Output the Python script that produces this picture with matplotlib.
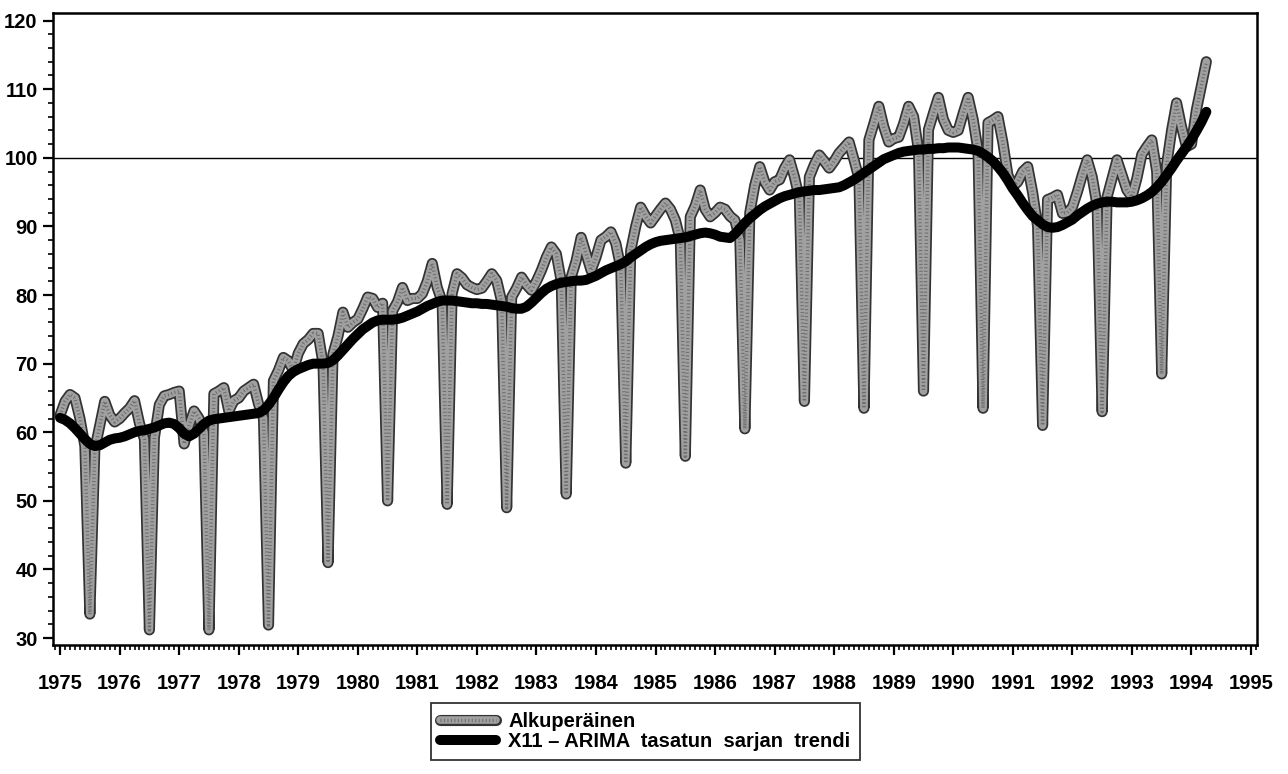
import numpy as np
import matplotlib
matplotlib.use("Agg")
import matplotlib.pyplot as plt
import matplotlib.patheffects as pe
from matplotlib.ticker import MultipleLocator

plt.rcParams['font.family'] = ['Liberation Sans', 'DejaVu Sans']

# monthly series, Jan 1975 .. Apr 1994
start_year = 1975
original = [
    62.5, 64.5, 65.5, 65.0, 62.0, 58.0, 33.5, 57.5, 61.0, 64.5, 62.5, 61.5,   # 1975
    62.0, 62.8, 63.5, 64.6, 61.3, 59.0, 31.2, 59.2, 64.0, 65.3, 65.5, 65.8,   # 1976
    66.0, 58.3, 61.0, 63.1, 62.0, 60.0, 31.2, 65.6, 66.0, 66.5, 63.1, 64.6,   # 1977
    65.0, 66.0, 66.5, 67.0, 64.1, 62.0, 31.9, 67.5, 69.0, 70.9, 70.4, 69.0,   # 1978
    71.5, 72.9, 73.5, 74.4, 74.4, 70.0, 41.0, 71.4, 74.0, 77.5, 75.3, 76.0,   # 1979
    76.5, 78.0, 79.7, 79.5, 78.2, 78.8, 50.0, 77.7, 79.0, 81.1, 79.2, 79.5,   # 1980
    79.5, 80.2, 82.0, 84.6, 81.1, 79.0, 49.5, 80.2, 83.1, 82.5, 81.5, 81.1,   # 1981
    80.8, 81.0, 82.0, 83.1, 82.1, 79.0, 49.0, 79.7, 81.0, 82.6, 81.5, 80.7,   # 1982
    82.0, 83.6, 85.5, 87.0, 86.0, 82.0, 51.0, 82.6, 85.0, 88.4, 86.0, 83.6,   # 1983
    85.5, 88.0, 88.5, 89.2, 87.5, 84.0, 55.5, 86.5, 90.0, 92.8, 91.5, 90.5,   # 1984
    91.5, 92.5, 93.4, 92.5, 90.9, 88.0, 56.5, 91.4, 93.0, 95.3, 92.5, 91.4,   # 1985
    92.0, 92.8, 92.5, 91.5, 90.9, 88.0, 60.5, 92.0, 96.0, 98.7, 96.5, 95.3,   # 1986
    96.5, 96.8, 98.5, 99.7, 97.2, 94.0, 64.5, 97.2, 99.0, 100.4, 99.5, 98.5,  # 1987
    99.5, 100.7, 101.5, 102.3, 99.7, 97.0, 63.5, 102.6, 105.0, 107.5, 104.5, 102.3,  # 1988
    102.8, 103.0, 105.0, 107.5, 106.0, 101.0, 66.0, 104.1, 106.5, 108.8, 105.6, 104.0,  # 1989
    103.7, 104.0, 106.5, 108.8, 105.6, 101.0, 63.5, 105.1, 105.5, 106.0, 102.2, 97.5,  # 1990
    95.8, 96.5, 98.0, 98.7, 94.9, 90.0, 61.0, 93.9, 94.2, 94.6, 91.9, 92.0,   # 1991
    92.8, 95.0, 97.5, 99.7, 97.2, 93.0, 63.0, 94.3, 97.0, 99.7, 97.5, 95.3,   # 1992
    94.3, 97.0, 100.5, 101.6, 102.6, 98.0, 68.5, 99.0, 104.0, 108.0, 104.5, 101.6,  # 1993
    102.0, 107.0, 110.5, 114.0,                                                # 1994
]
trend = [
    62.1, 61.8, 61.3, 60.6, 59.8, 59.0, 58.3, 58.0, 58.1, 58.5, 58.9, 59.1,   # 1975
    59.2, 59.4, 59.7, 60.0, 60.2, 60.3, 60.5, 60.7, 61.0, 61.3, 61.4, 61.2,   # 1976
    60.6, 59.8, 59.4, 59.8, 60.5, 61.2, 61.7, 61.9, 62.0, 62.1, 62.2, 62.3,   # 1977
    62.4, 62.5, 62.6, 62.7, 62.8, 63.2, 64.0, 65.0, 66.2, 67.3, 68.2, 68.8,   # 1978
    69.2, 69.5, 69.8, 70.0, 70.0, 70.0, 70.1, 70.5, 71.2, 72.0, 72.8, 73.6,   # 1979
    74.3, 75.0, 75.5, 76.0, 76.3, 76.4, 76.4, 76.4, 76.5, 76.7, 77.0, 77.3,   # 1980
    77.6, 78.0, 78.4, 78.7, 79.0, 79.2, 79.2, 79.2, 79.1, 79.0, 78.9, 78.8,   # 1981
    78.8, 78.7, 78.7, 78.6, 78.5, 78.4, 78.3, 78.1, 78.0, 78.0, 78.3, 78.9,   # 1982
    79.6, 80.3, 80.9, 81.3, 81.6, 81.8, 81.9, 82.0, 82.1, 82.1, 82.2, 82.5,   # 1983
    82.8, 83.2, 83.6, 83.9, 84.2, 84.5, 84.9, 85.5, 86.0, 86.5, 87.0, 87.4,   # 1984
    87.7, 87.9, 88.0, 88.1, 88.2, 88.3, 88.4, 88.6, 88.8, 89.0, 89.1, 89.0,   # 1985
    88.8, 88.5, 88.4, 88.3, 88.9, 89.7, 90.5, 91.2, 91.8, 92.4, 92.9, 93.3,   # 1986
    93.7, 94.1, 94.4, 94.6, 94.8, 95.0, 95.1, 95.2, 95.3, 95.3, 95.4, 95.5,   # 1987
    95.6, 95.7, 96.0, 96.4, 96.8, 97.3, 97.8, 98.3, 98.8, 99.3, 99.8, 100.1,  # 1988
    100.4, 100.7, 100.9, 101.0, 101.1, 101.2, 101.2, 101.3, 101.3, 101.4, 101.4, 101.5,  # 1989
    101.5, 101.5, 101.4, 101.3, 101.2, 101.0, 100.6, 100.1, 99.5, 98.7, 97.8, 96.7,  # 1990
    95.5, 94.5, 93.4, 92.4, 91.5, 90.9, 90.3, 89.9, 89.8, 89.9, 90.2, 90.6,   # 1991
    91.0, 91.6, 92.1, 92.6, 93.0, 93.3, 93.5, 93.6, 93.6, 93.5, 93.5, 93.5,   # 1992
    93.6, 93.8, 94.1, 94.5, 95.0, 95.7, 96.5, 97.5, 98.5, 99.6, 100.6, 101.6,  # 1993
    102.7, 103.9, 105.2, 106.7,                                                # 1994
]
ref_level = 100
year_ticks = list(range(1975, 1996))
label_orig = 'Alkuperäinen'
label_trend = 'X11 – ARIMA  tasatun  sarjan  trendi'

x = start_year + np.arange(len(original)) / 12.0

fig = plt.figure(figsize=(12.88, 7.74), dpi=100)
ax = fig.add_axes([0.0411, 0.1667, 0.9348, 0.8165])

ax.axhline(ref_level, color='black', lw=1.0, zorder=1)

# original series: grey band with dark edge + fine stipple
l1, = ax.plot(x, original, color='#a0a0a0', lw=5.5, solid_joinstyle='round',
              solid_capstyle='round', zorder=2,
              path_effects=[pe.Stroke(linewidth=8, foreground='#333333'), pe.Normal()])
l1b, = ax.plot(x, original, color='#6e6e6e', lw=2.5, linestyle=(0, (0.3, 0.7)),
               zorder=3)
# trend
l2, = ax.plot(x[:len(trend)], trend, color='black', lw=7.2, solid_capstyle='round',
              solid_joinstyle='round', zorder=4)

ax.set_xlim(1974.88, 1995.1)
ax.set_ylim(29.0, 121.1)
ax.set_xticks(year_ticks)
ax.xaxis.set_minor_locator(MultipleLocator(1 / 12))
ax.yaxis.set_major_locator(MultipleLocator(10))
ax.yaxis.set_minor_locator(MultipleLocator(2))
ax.tick_params(axis='both', which='major', direction='out', length=7, width=1.6,
               labelsize=14.5, colors='black')
ax.tick_params(axis='both', which='minor', direction='out', length=3.5, width=1.2)
ax.tick_params(axis='x', which='major', pad=14)
ax.tick_params(axis='y', which='major', pad=4)
for lab in ax.get_xticklabels() + ax.get_yticklabels():
    lab.set_fontweight('bold')
for s in ax.spines.values():
    s.set_linewidth(1.8)

leg = fig.legend([(l1, l1b), l2], [label_orig, label_trend],
                 loc='upper left', bbox_to_anchor=(0.3346, 0.0917),
                 prop={'size': 14.5, 'weight': 'bold'}, frameon=True, fancybox=False,
                 handlelength=2.8, borderaxespad=0, borderpad=0.45,
                 labelspacing=0.05, handletextpad=0.6)
leg.get_frame().set_edgecolor('black')
leg.get_frame().set_linewidth(1.3)

fig.savefig('out.png', dpi=100)
